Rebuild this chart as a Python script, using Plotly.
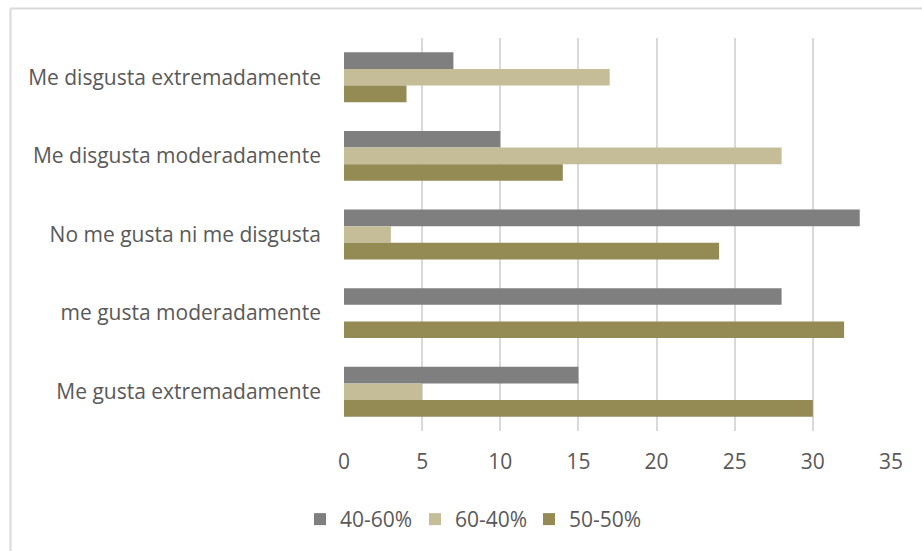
import plotly.graph_objects as go

categories = [
    "Me disgusta extremadamente",
    "Me disgusta moderadamente",
    "No me gusta ni me disgusta",
    "me gusta moderadamente",
    "Me gusta extremadamente",
]
series_names = ["40-60%", "60-40%", "50-50%"]
values_40_60 = [7, 10, 33, 28, 15]
values_60_40 = [17, 28, 3, 0, 5]
values_50_50 = [4, 14, 24, 32, 30]
x_ticks = [0, 5, 10, 15, 20, 25, 30, 35]

colors = ["#7f7f7f", "#c4bd97", "#948a54"]
series_values = [values_40_60, values_60_40, values_50_50]

W, H = 922, 551
L, R, T, B = 344, 31, 38, 119
pw, ph = W - L - R, H - T - B

FONT = "Open Sans"
FS = 21
TXT = "#595959"

# one legend per series so each entry sits at its own spot on the row
legend_ids = ["legend", "legend2", "legend3"]
legend_left_px = [300, 415, 529]

fig = go.Figure()
for name, vals, col, lg in zip(series_names, series_values, colors, legend_ids):
    fig.add_trace(go.Bar(
        y=categories, x=vals, name=name, orientation="h",
        marker=dict(color=col, line=dict(width=0)),
        legend=lg,
    ))

legend_layout = {}
for lg, px in zip(legend_ids, legend_left_px):
    legend_layout[lg] = dict(
        orientation="h", x=(px - L) / pw, y=-0.222,
        xanchor="left", yanchor="middle",
        font=dict(family=FONT, size=FS, color=TXT),
        bgcolor="rgba(0,0,0,0)", itemwidth=30,
    )

fig.update_layout(
    width=W, height=H,
    margin=dict(l=L, r=R, t=T, b=B),
    paper_bgcolor="white", plot_bgcolor="white",
    barmode="group", bargap=0.365, bargroupgap=0,
    font=dict(family=FONT, size=FS, color=TXT),
    showlegend=True,
    xaxis=dict(
        range=[0, 35], tickvals=x_ticks, showgrid=True,
        gridcolor="#d9d9d9", gridwidth=1.5, zeroline=False,
        showline=False, ticks="", ticklabelstandoff=16,
        tickfont=dict(family=FONT, size=FS, color=TXT),
    ),
    yaxis=dict(
        autorange="reversed", showgrid=False, zeroline=False,
        showline=False, ticks="", ticklabelstandoff=22,
        tickfont=dict(family=FONT, size=FS, color=TXT),
    ),
    **legend_layout,
)

# outer chart frame (left and top edges)
px_left = (10.5 - L) / pw
py_top = (H - B - 8.5) / ph
fig.add_shape(type="line", xref="paper", yref="paper",
              x0=px_left, x1=px_left, y0=py_top, y1=-0.5,
              line=dict(color="#d9d9d9", width=2))
fig.add_shape(type="line", xref="paper", yref="paper",
              x0=px_left, x1=1.2, y0=py_top, y1=py_top,
              line=dict(color="#d9d9d9", width=2))

fig.write_html("out.html")
